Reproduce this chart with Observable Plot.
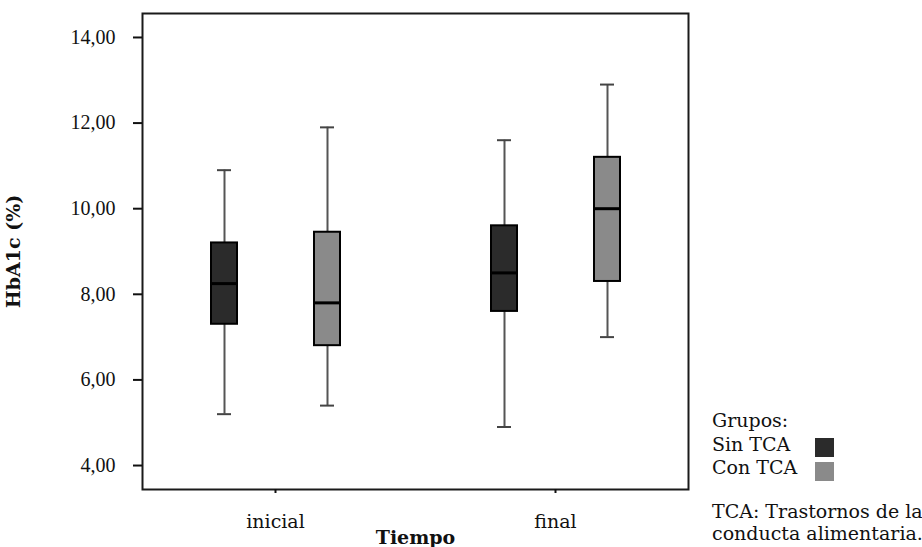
<!DOCTYPE html>
<html>
<head>
<meta charset="utf-8">
<script src="https://cdn.jsdelivr.net/npm/d3@7"></script>
<script src="https://cdn.jsdelivr.net/npm/@observablehq/plot@0.6"></script>
<style>
  html, body { margin: 0; padding: 0; background: #fff; }
  #wrap { position: relative; width: 922px; height: 547px; overflow: hidden; font-family: 'DejaVu Serif', serif; }
  [aria-label="y-axis label"], [aria-label="fx-axis label"] { font-weight: bold; }
  [aria-label="y-axis tick label"] { font-family: 'Liberation Serif', serif; font-size: 20px; }
  .leg { position: absolute; font-size: 19px; line-height: 23px; color: #111; white-space: nowrap; font-family: 'DejaVu Serif', serif; }
  .sw { position: absolute; width: 19px; height: 19px; }
</style>
</head>
<body>
<div id="wrap"></div>
<script>
// ---- data ----
const tiempos = ["inicial", "final"];
const grupos = ["Sin TCA", "Con TCA"];
const colores = ["#2b2b2b", "#8a8a8a"];
const yTicks = [4, 6, 8, 10, 12, 14];
// order: inicial/Sin TCA, inicial/Con TCA, final/Sin TCA, final/Con TCA
const minimo  = [5.2, 5.4, 4.9, 7.0];
const q1      = [7.3, 6.8, 7.6, 8.3];
const mediana = [8.25, 7.8, 8.5, 10.0];
const q3      = [9.2, 9.45, 9.6, 11.2];
const maximo  = [10.9, 11.9, 11.6, 12.9];

const rows = [];
tiempos.forEach((t, i) => grupos.forEach((g, j) => {
  const k = i * grupos.length + j;
  rows.push({tiempo: t, grupo: g, min: minimo[k], q1: q1[k], med: mediana[k], q3: q3[k], max: maximo[k]});
}));

const fmt = d => d.toFixed(2).replace(".", ",");

const chart = Plot.plot({
  width: 922, height: 547,
  marginLeft: 142, marginRight: 234, marginTop: 13, marginBottom: 58,
  style: {fontFamily: "'DejaVu Serif', serif", fontSize: "19px", color: "#111", background: "transparent", overflow: "visible"},
  fx: {domain: tiempos, paddingInner: 0.05, paddingOuter: 0, label: "Tiempo"},
  x: {domain: grupos, paddingInner: 0.75, paddingOuter: 0.654, axis: null},
  y: {domain: [3.44, 14.56], label: "HbA1c (%)", labelArrow: "none"},
  color: {domain: grupos, range: colores},
  marks: [
    Plot.frame({facet: "super", stroke: "#1a1a1a", strokeWidth: 2}),
    Plot.axisY({ticks: yTicks, tickFormat: fmt, tickSize: 9, tickPadding: 18, strokeWidth: 2,
      label: "HbA1c (%)", labelArrow: "none", labelAnchor: "center", labelOffset: 136}),
    Plot.axisFx({anchor: "bottom", tickSize: 4, tickPadding: 21, strokeWidth: 2,
      label: "Tiempo", labelAnchor: "center", labelOffset: 54}),
    Plot.ruleX(rows, {fx: "tiempo", x: "grupo", y1: "min", y2: "max", stroke: "#555", strokeWidth: 2}),
    Plot.tickY(rows, {fx: "tiempo", x: "grupo", y: "min", stroke: "#444", strokeWidth: 2, insetLeft: 6, insetRight: 6}),
    Plot.tickY(rows, {fx: "tiempo", x: "grupo", y: "max", stroke: "#444", strokeWidth: 2, insetLeft: 6, insetRight: 6}),
    Plot.barY(rows, {fx: "tiempo", x: "grupo", y1: "q1", y2: "q3", fill: "grupo", stroke: "#000", strokeWidth: 2}),
    Plot.tickY(rows, {fx: "tiempo", x: "grupo", y: "med", stroke: "#000", strokeWidth: 3})
  ]
});

const wrap = document.getElementById("wrap");
wrap.appendChild(chart);

// legend
function addText(txt, left, top) {
  const d = document.createElement("div");
  d.className = "leg"; d.textContent = txt;
  d.style.left = left + "px"; d.style.top = top + "px";
  wrap.appendChild(d);
}
addText("Grupos:", 712, 409);
grupos.forEach((g, i) => {
  addText(g, 712, 433 + i * 23);
  const s = document.createElement("div");
  s.className = "sw";
  s.style.left = "815px"; s.style.top = (438 + i * 24) + "px";
  s.style.background = colores[i];
  wrap.appendChild(s);
});
addText("TCA: Trastornos de la", 712, 500);
addText("conducta alimentaria.", 712, 522);
</script>
</body>
</html>
